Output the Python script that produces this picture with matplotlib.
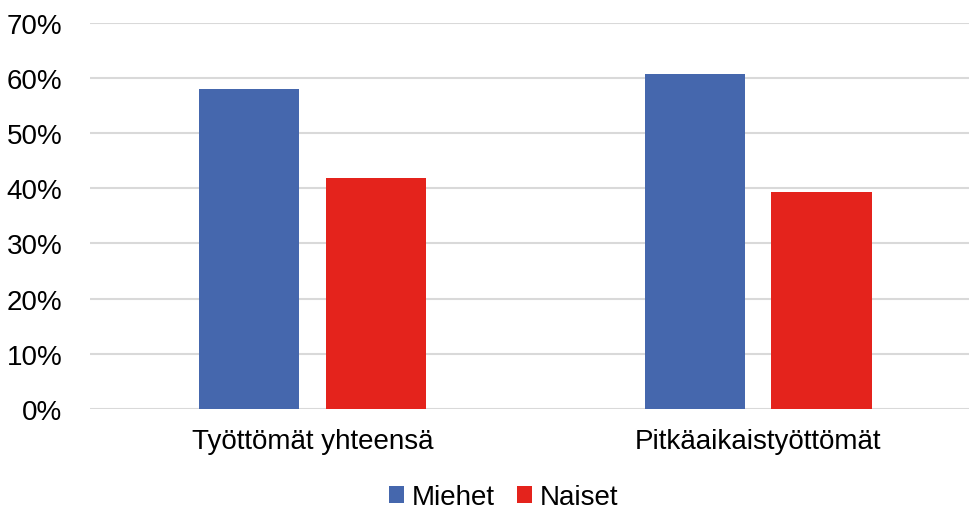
import matplotlib
matplotlib.use("Agg")
import matplotlib.pyplot as plt
from matplotlib.ticker import FuncFormatter
import numpy as np

categories = ["Työttömät yhteensä", "Pitkäaikaistyöttömät"]
series_names = ["Miehet", "Naiset"]
miehet = [0.581, 0.607]
naiset = [0.419, 0.393]
colors = ["#4567AD", "#E4231C"]

plt.rcParams['font.family'] = ['Liberation Sans', 'DejaVu Sans']

fig = plt.figure(figsize=(9.69, 5.10), dpi=100)
ax = fig.add_axes([89.5/969, (510-409.7)/510, (969-89.5)/969, 385.7/510])

x = np.arange(len(categories))
w = 0.2245
off = 0.1425
ax.bar(x - off, miehet, width=w, color=colors[0], label=series_names[0], zorder=3)
ax.bar(x + off, naiset, width=w, color=colors[1], label=series_names[1], zorder=3)

ax.set_xlim(-0.5006, 1.4736)
ax.set_ylim(0, 0.7)
ax.set_yticks(np.arange(0, 0.71, 0.1))
ax.yaxis.set_major_formatter(FuncFormatter(lambda v, p: f"{v*100:.0f}%"))
ax.set_xticks(x)
ax.set_xticklabels(categories)
ax.tick_params(axis='both', length=0, labelsize=20, colors='#000000')
ax.tick_params(axis='y', pad=19.5)
ax.tick_params(axis='x', pad=14)
ax.grid(axis='y', color='#D9D9D9', linewidth=1.5, zorder=0)
for s in ax.spines.values():
    s.set_visible(False)

leg = fig.legend(loc='center', bbox_to_anchor=(503.5/969, 1 - 498/510), ncol=2, frameon=False,
                 fontsize=20, handlelength=0.55, handleheight=0.55, handletextpad=0.26,
                 columnspacing=0.8, borderpad=0)

fig.savefig("out.png", dpi=100)
